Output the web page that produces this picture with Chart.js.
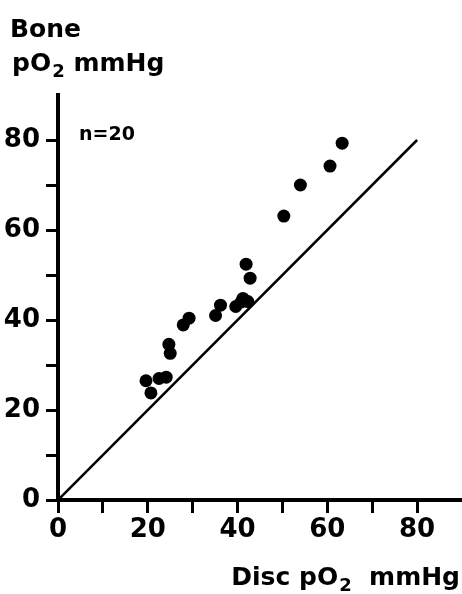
<!DOCTYPE html>
<html>
<head>
<meta charset="utf-8">
<script src="https://cdn.jsdelivr.net/npm/chart.js@4"></script>
<style>
  html, body { margin: 0; padding: 0; background: #fff; }
</style>
</head>
<body>
<canvas id="chart" width="462" height="594"></canvas>
<script>
// disc vs bone pO2, n = 20
const discPO2 = [19.6, 20.7, 22.5, 24.1, 24.7, 25.0, 27.9, 29.2, 35.1, 36.2, 39.6, 40.8, 41.2, 42.3, 41.9, 42.8, 50.3, 54.0, 60.6, 63.3];
const bonePO2 = [26.5, 23.8, 27.0, 27.3, 34.6, 32.6, 38.9, 40.4, 41.0, 43.3, 43.0, 44.0, 44.8, 44.1, 52.4, 49.3, 63.1, 70.0, 74.2, 79.3];

// line of identity
const identityX = [0, 80];
const identityY = [0, 80];

const tickLabels = ['0', '20', '40', '60', '80'];

const fontFamily = '"DejaVu Sans"';

function tickCallback(v) {
    if (v > 80) return null;
    return tickLabels.includes(String(v)) ? String(v) : '';
}

// draws "pO2 mmHg" style text with a real subscript 2
function drawPO2(ctx, before, after, x, y, size) {
    const big = 'bold ' + size + 'px ' + fontFamily;
    const small = 'bold ' + Math.round(size * 0.7) + 'px ' + fontFamily;
    ctx.font = big;
    ctx.fillText(before, x, y);
    x += ctx.measureText(before).width;
    ctx.font = small;
    ctx.fillText('2', x + 1, y + 6);
    x += ctx.measureText('2').width + 1;
    ctx.font = big;
    ctx.fillText(after, x, y);
}

function textWidth(ctx, before, after, size) {
    ctx.font = 'bold ' + size + 'px ' + fontFamily;
    let w = ctx.measureText(before).width + ctx.measureText(after).width;
    ctx.font = 'bold ' + Math.round(size * 0.7) + 'px ' + fontFamily;
    return w + ctx.measureText('2').width + 1;
}

const textPlugin = {
    id: 'textLabels',
    afterDraw(chart) {
        const ctx = chart.ctx;
        ctx.save();
        ctx.fillStyle = '#000';
        ctx.textBaseline = 'alphabetic';
        ctx.textAlign = 'left';
        ctx.font = 'bold 25px ' + fontFamily;
        ctx.fillText('Bone', 10, 37);
        drawPO2(ctx, 'pO', ' mmHg', 12, 71, 25);
        // x axis title, right aligned
        const w = textWidth(ctx, 'Disc pO', '  mmHg', 25);
        drawPO2(ctx, 'Disc pO', '  mmHg', 460 - w, 585, 25);
        ctx.font = 'bold 19px ' + fontFamily;
        ctx.fillText('n=20', 79, 140);
        ctx.restore();
    }
};

const ctx = document.getElementById('chart').getContext('2d');
const chart = new Chart(ctx, {
    type: 'scatter',
    data: {
        datasets: [
            {
                data: discPO2.map((x, i) => ({ x: x, y: bonePO2[i] })),
                pointRadius: 6.5,
                pointBackgroundColor: '#000',
                pointBorderColor: '#000',
                pointBorderWidth: 0
            },
            {
                data: identityX.map((x, i) => ({ x: x, y: identityY[i] })),
                showLine: true,
                borderColor: '#000',
                borderWidth: 2.5,
                pointRadius: 0
            }
        ]
    },
    options: {
        responsive: false,
        animation: false,
        layout: { autoPadding: false, padding: { top: 95, left: 0, right: 0, bottom: 0 } },
        plugins: {
            legend: { display: false },
            tooltip: { enabled: false }
        },
        scales: {
            x: {
                type: 'linear',
                min: 0,
                max: 90,
                afterFit(scale) { scale.height = 94; },
                border: { display: true, color: '#000', width: 4 },
                grid: { display: true, drawOnChartArea: false, drawTicks: true, tickLength: 13, tickWidth: 3, tickColor: '#000' },
                ticks: {
                    stepSize: 10,
                    autoSkip: false,
                    maxRotation: 0,
                    padding: 2,
                    color: '#000',
                    font: { family: fontFamily, size: 26, weight: 'bold' },
                    callback: tickCallback
                }
            },
            y: {
                type: 'linear',
                min: 0,
                max: 90,
                afterFit(scale) { scale.width = 58; },
                border: { display: true, color: '#000', width: 4 },
                grid: { display: true, drawOnChartArea: false, drawTicks: true, tickLength: 12, tickWidth: 3, tickColor: '#000' },
                ticks: {
                    stepSize: 10,
                    autoSkip: false,
                    padding: 6,
                    color: '#000',
                    font: { family: fontFamily, size: 26, weight: 'bold' },
                    callback: tickCallback
                }
            }
        }
    },
    plugins: [textPlugin]
});
</script>
</body>
</html>
